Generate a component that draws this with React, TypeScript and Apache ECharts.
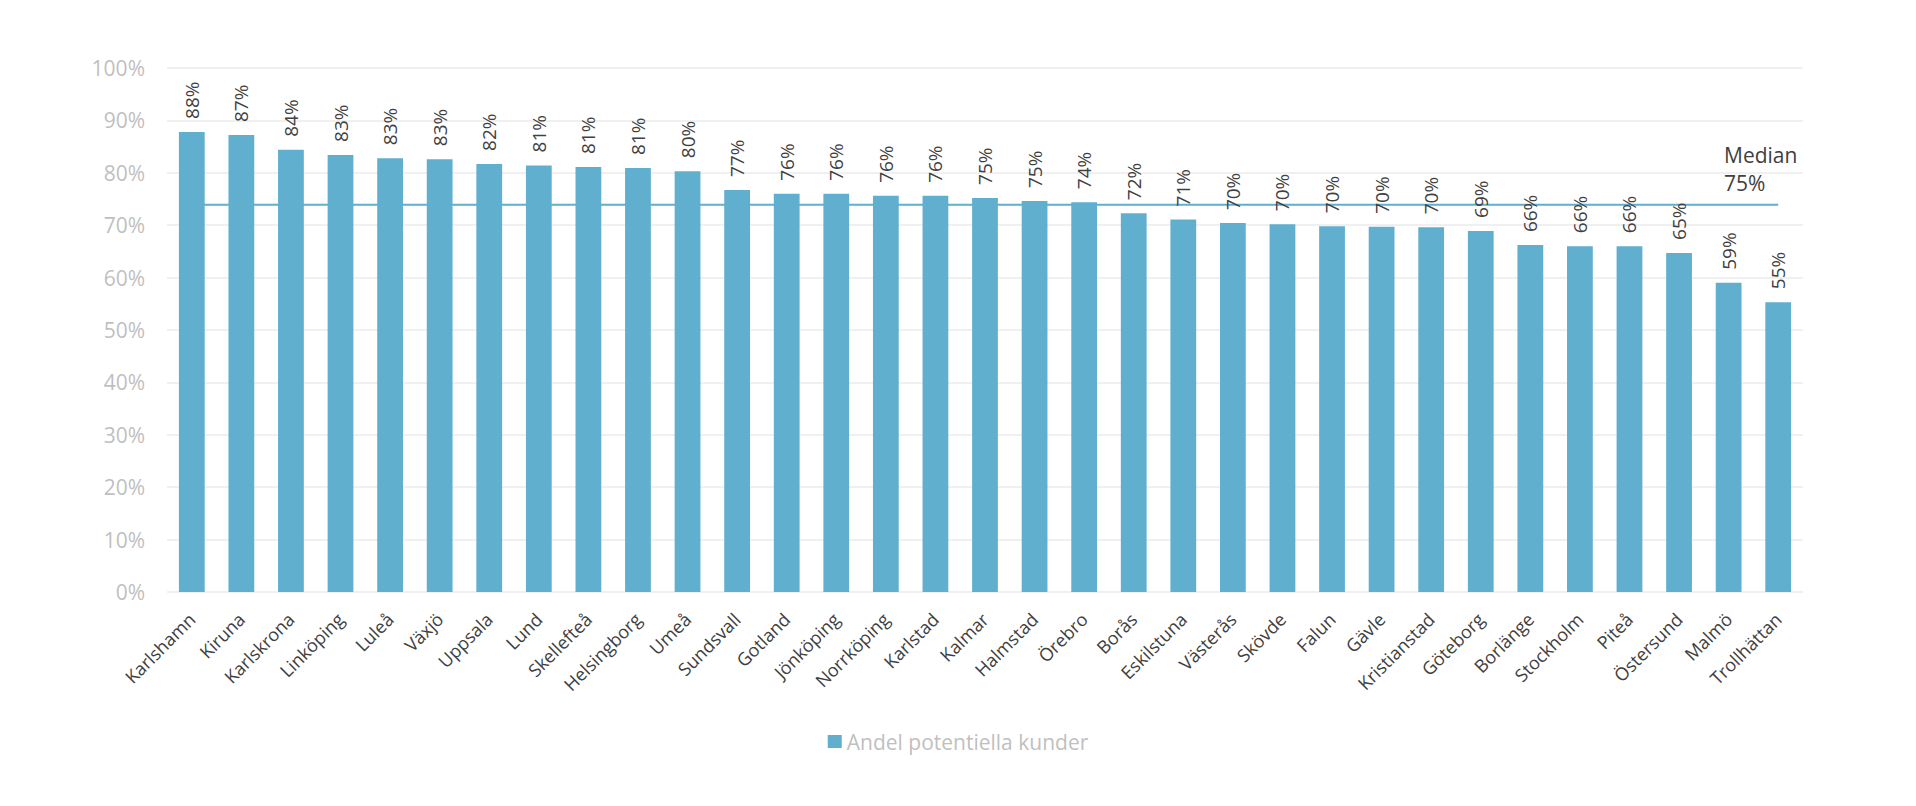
import React, { useEffect, useRef } from "react";
import * as echarts from "echarts";

const categories = [
  "Karlshamn", "Kiruna", "Karlskrona", "Linköping", "Luleå", "Växjö", "Uppsala", "Lund",
  "Skellefteå", "Helsingborg", "Umeå", "Sundsvall", "Gotland", "Jönköping", "Norrköping",
  "Karlstad", "Kalmar", "Halmstad", "Örebro", "Borås", "Eskilstuna", "Västerås", "Skövde",
  "Falun", "Gävle", "Kristianstad", "Göteborg", "Borlänge", "Stockholm", "Piteå",
  "Östersund", "Malmö", "Trollhättan",
];

const shares = [
  87.8, 87.2, 84.4, 83.4, 82.8, 82.6, 81.7, 81.4, 81.1, 80.9, 80.3, 76.7, 76.0, 76.0, 75.6,
  75.6, 75.2, 74.6, 74.4, 72.3, 71.1, 70.4, 70.2, 69.8, 69.7, 69.6, 68.9, 66.2, 66.0, 66.0,
  64.7, 59.0, 55.3,
];

const medianValue = 73.9;
const medianLabel = "Median\n75%";
const seriesName = "Andel potentiella kunder";
const yTicks = [0, 10, 20, 30, 40, 50, 60, 70, 80, 90, 100];

const BAR = "#60afce";
const FONT = "Open Sans";

export default function App() {
  const ref = useRef<HTMLDivElement>(null);

  useEffect(() => {
    if (!ref.current) return;
    const chart = echarts.init(ref.current, null, { renderer: "svg" });
    chart.setOption({
      animation: false,
      backgroundColor: "#ffffff",
      grid: { left: 167, right: 113, top: 68, bottom: 214, containLabel: false },
      legend: {
        data: [{ name: seriesName, icon: "rect" }],
        left: "center",
        top: 726,
        itemWidth: 14,
        itemHeight: 13,
        itemGap: 8,
        textStyle: { color: "#bfbfbf", fontFamily: FONT, fontSize: 21 },
      },
      xAxis: {
        type: "category",
        data: categories,
        axisLine: { show: false },
        axisTick: { show: false },
        axisLabel: {
          rotate: 45,
          interval: 0,
          margin: 24,
          color: "#404040",
          fontFamily: FONT,
          fontSize: 18,
        },
      },
      yAxis: {
        type: "value",
        min: yTicks[0],
        max: yTicks[yTicks.length - 1],
        interval: 10,
        axisLine: { show: false },
        axisTick: { show: false },
        splitLine: { lineStyle: { color: "#f0f0f0", width: 2 } },
        axisLabel: {
          margin: 22,
          color: "#bfbfbf",
          fontFamily: FONT,
          fontSize: 21,
          formatter: (v: number) => `${v}%`,
        },
      },
      series: [
        {
          name: "Median",
          type: "line",
          data: categories.map(() => medianValue),
          symbol: "none",
          z: 1,
          lineStyle: { color: BAR, width: 2 },
          silent: true,
        },
        {
          name: seriesName,
          type: "bar",
          data: shares,
          barWidth: "52%",
          z: 2,
          itemStyle: { color: BAR },
          label: {
            show: true,
            position: "top",
            rotate: 90,
            align: "left",
            verticalAlign: "middle",
            distance: 13,
            color: "#404040",
            fontFamily: FONT,
            fontSize: 19,
            formatter: (p: any) => `${Math.round(p.value)}%`,
          },
        },
      ],
      graphic: [
        {
          type: "text",
          left: 1724,
          top: 141,
          z: 10,
          style: {
            text: medianLabel,
            fill: "#404040",
            fontFamily: FONT,
            fontSize: 21,
            lineHeight: 28,
          },
        },
      ],
    });
    return () => chart.dispose();
  }, []);

  return (
    <div
      ref={ref}
      style={{ position: "fixed", left: 0, top: 0, width: 1916, height: 806 }}
    />
  );
}
